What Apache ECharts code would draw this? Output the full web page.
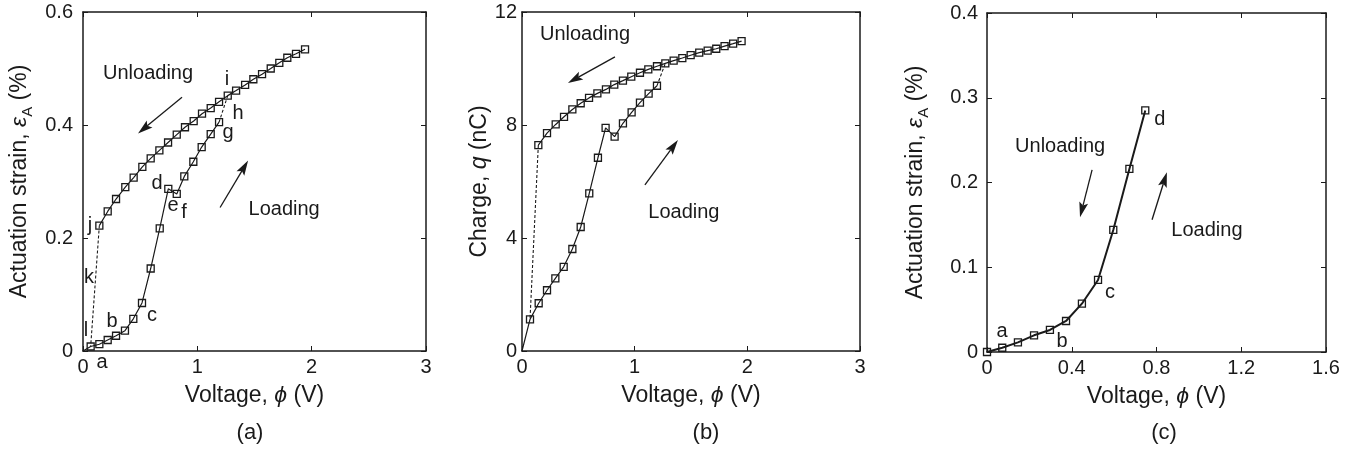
<!DOCTYPE html>
<html><head><meta charset="utf-8">
<script src="https://cdn.jsdelivr.net/npm/echarts@6/dist/echarts.min.js"></script>
<style>html,body{margin:0;padding:0;background:#fff}#c{width:1358px;height:455px}</style>
</head><body><div id="c"></div><script>
// ---------- Panel (a): actuation strain vs voltage ----------
const aLoadV      = [0, 0.067, 0.143, 0.216, 0.289, 0.367, 0.44, 0.516, 0.592, 0.671, 0.746, 0.82, 0.886, 0.965, 1.038, 1.117, 1.19];
const aLoadStrain = [0, 0.008, 0.012, 0.0195, 0.027, 0.036, 0.057, 0.085, 0.146, 0.217, 0.287, 0.278, 0.309, 0.335, 0.361, 0.384, 0.405];
const aJumpUpV      = [1.19, 1.266];
const aJumpUpStrain = [0.405, 0.452];
const aUpperV      = [0.143, 0.216, 0.289, 0.37, 0.443, 0.519, 0.592, 0.668, 0.744, 0.82, 0.892, 0.968, 1.041, 1.117, 1.19, 1.266, 1.339, 1.418, 1.49, 1.566, 1.642, 1.717, 1.787, 1.863, 1.942];
const aUpperStrain = [0.222, 0.247, 0.269, 0.290, 0.307, 0.326, 0.341, 0.355, 0.369, 0.383, 0.396, 0.407, 0.420, 0.430, 0.441, 0.452, 0.461, 0.471, 0.481, 0.490, 0.500, 0.510, 0.519, 0.526, 0.534];
const aDropV      = [0.143, 0.067];
const aDropStrain = [0.222, 0.008];

// ---------- Panel (b): charge vs voltage ----------
const bLoadV = [0, 0.071, 0.148, 0.222, 0.296, 0.37, 0.447, 0.521, 0.597, 0.674, 0.742, 0.822, 0.896, 0.973, 1.047, 1.124, 1.198];
const bLoadQ = [0, 1.12, 1.69, 2.15, 2.57, 2.98, 3.61, 4.39, 5.58, 6.84, 7.90, 7.59, 8.06, 8.45, 8.79, 9.11, 9.39];
const bJumpUpV = [1.198, 1.272];
const bJumpUpQ = [9.39, 10.18];
const bUpperV = [0.145, 0.222, 0.299, 0.373, 0.447, 0.521, 0.595, 0.669, 0.745, 0.819, 0.896, 0.97, 1.047, 1.121, 1.198, 1.272, 1.346, 1.423, 1.497, 1.573, 1.648, 1.724, 1.798, 1.874, 1.949];
const bUpperQ = [7.29, 7.71, 8.02, 8.29, 8.55, 8.77, 8.96, 9.12, 9.26, 9.43, 9.57, 9.71, 9.85, 9.97, 10.08, 10.18, 10.28, 10.37, 10.47, 10.56, 10.63, 10.70, 10.79, 10.88, 10.97];
const bDropV = [0.145, 0.071];
const bDropQ = [7.29, 1.12];

// ---------- Panel (c): actuation strain vs voltage (low range) ----------
const cV      = [0, 0.072, 0.146, 0.222, 0.297, 0.373, 0.448, 0.524, 0.596, 0.672, 0.747];
const cStrain = [0, 0.005, 0.0114, 0.0197, 0.026, 0.0366, 0.057, 0.085, 0.144, 0.216, 0.285];

// ---------- Tick labels ----------
const aXTicks = [0, 1, 2, 3];        const aYTicks = [0, 0.2, 0.4, 0.6];
const bXTicks = [0, 1, 2, 3];        const bYTicks = [0, 4, 8, 12];
const cXTicks = [0, 0.4, 0.8, 1.2, 1.6]; const cYTicks = [0, 0.1, 0.2, 0.3, 0.4];

const FONT = '"Liberation Sans", Arial, sans-serif';
const INK = '#1a1a1a';
const zip = (xs, ys) => xs.map((x, i) => [x, ys[i]]);

const nameRich = {
  n: {fontSize: 23, fontFamily: FONT, color: INK, lineHeight: 30, verticalAlign: 'middle'},
  i: {fontSize: 23, fontFamily: FONT, color: INK, fontStyle: 'italic', lineHeight: 30, verticalAlign: 'middle'},
  s: {fontSize: 15, fontFamily: FONT, color: INK, lineHeight: 30, verticalAlign: 'bottom'}
};

function axesFor(gi, ticks, isX, name, nameGap, labelMargin) {
  const min = ticks[0], max = ticks[ticks.length - 1], interval = ticks[1] - ticks[0];
  const common = {
    type: 'value', gridIndex: gi, min, max, interval,
    axisLine: {show: true, onZero: false, lineStyle: {color: INK, width: 1.5}},
    axisTick: {show: true, inside: true, length: 5, lineStyle: {color: INK, width: 1}},
    splitLine: {show: false}
  };
  const main = Object.assign({}, common, {
    position: isX ? 'bottom' : 'left',
    axisLabel: {show: true, fontSize: 20, color: INK, fontFamily: FONT, margin: labelMargin},
    name, nameLocation: 'middle', nameGap,
    nameRotate: isX ? 0 : 90,
    nameTextStyle: {rich: nameRich, fontSize: 23, fontFamily: FONT, color: INK}
  });
  const twin = Object.assign({}, common, {
    position: isX ? 'top' : 'right',
    axisLabel: {show: false}
  });
  return [main, twin];
}

const volt = '{n|Voltage, }{i|ϕ}{n| (V)}';
const xAxis = [
  ...axesFor(0, aXTicks, true, volt, 30, 6),
  ...axesFor(1, bXTicks, true, volt, 30, 6),
  ...axesFor(2, cXTicks, true, volt, 30, 6)
];
const yAxis = [
  ...axesFor(0, aYTicks, false, '{n|Actuation strain, }{i|ε}{s|A}{n| (%)}', 48, 10),
  ...axesFor(1, bYTicks, false, '{n|Charge, }{i|q}{n| (nC)}', 26, 5),
  ...axesFor(2, cYTicks, false, '{n|Actuation strain, }{i|ε}{s|A}{n| (%)}', 56, 9)
];

const marker = {color: 'rgba(255,255,255,0)', borderColor: INK, borderWidth: 1.3};
function solid(gi, xs, ys, opts) {
  const data = zip(xs, ys).map((p) => (p[0] === 0 && p[1] === 0 && gi !== 2) ? {value: p, symbol: 'none'} : p);
  return Object.assign({
    type: 'line', xAxisIndex: 2 * gi, yAxisIndex: 2 * gi, data,
    symbol: 'rect', symbolSize: 7, showSymbol: true,
    lineStyle: {color: INK, width: 1.2}, itemStyle: marker, z: 3, silent: true, animation: false
  }, opts || {});
}
function dashed(gi, xs, ys) {
  return {
    type: 'line', xAxisIndex: 2 * gi, yAxisIndex: 2 * gi, data: zip(xs, ys),
    symbol: 'none', lineStyle: {color: INK, width: 1.1, type: [3, 2]}, z: 2, silent: true, animation: false
  };
}

const series = [
  solid(0, aLoadV, aLoadStrain),
  dashed(0, aJumpUpV, aJumpUpStrain),
  solid(0, aUpperV, aUpperStrain),
  dashed(0, aDropV, aDropStrain),
  solid(1, bLoadV, bLoadQ),
  dashed(1, bJumpUpV, bJumpUpQ),
  solid(1, bUpperV, bUpperQ),
  dashed(1, bDropV, bDropQ),
  solid(2, cV, cStrain, {lineStyle: {color: INK, width: 2}})
];

const chart = echarts.init(document.getElementById('c'), null, {renderer: 'canvas'});
chart.setOption({
  animation: false,
  backgroundColor: '#fff',
  grid: [
    {left: 83, top: 12, width: 343, height: 339},
    {left: 522, top: 12, width: 338, height: 339},
    {left: 987, top: 13, width: 339, height: 339}
  ],
  xAxis, yAxis, series
});

// ---------- Annotations (placed in data coordinates of each panel) ----------
const notes = [
  // panel, text, x, y, size
  [0, 'Unloading', 0.569, 0.492, 20], [0, 'Loading', 1.759, 0.250, 20],
  [0, 'i', 1.26, 0.48, 20], [0, 'h', 1.356, 0.421, 20], [0, 'g', 1.269, 0.387, 20],
  [0, 'd', 0.647, 0.297, 20], [0, 'e', 0.787, 0.258, 20], [0, 'f', 0.884, 0.245, 20],
  [0, 'j', 0.061, 0.222, 20], [0, 'k', 0.052, 0.130, 20], [0, 'l', 0.026, 0.036, 20],
  [0, 'b', 0.254, 0.053, 20], [0, 'c', 0.604, 0.062, 20], [0, 'a', 0.166, -0.021, 20],
  [1, 'Unloading', 0.559, 11.19, 20], [1, 'Loading', 1.437, 4.92, 20],
  [2, 'Unloading', 0.345, 0.242, 20], [2, 'Loading', 1.038, 0.143, 20],
  [2, 'd', 0.816, 0.274, 20], [2, 'c', 0.58, 0.07, 20], [2, 'b', 0.354, 0.012, 20], [2, 'a', 0.071, 0.024, 20]
];
const arrows = [
  [0, 0.866, 0.449, 0.481, 0.385], [0, 1.199, 0.254, 1.444, 0.337],
  [1, 0.825, 10.41, 0.408, 9.49], [1, 1.091, 5.88, 1.384, 7.47],
  [2, 0.496, 0.215, 0.439, 0.159], [2, 0.779, 0.156, 0.849, 0.212]
];
const panelTags = [['(a)', 250, 433], ['(b)', 706, 433], ['(c)', 1164, 433]];

const graphic = [];
notes.forEach(([g, t, x, y, s]) => {
  const p = chart.convertToPixel({gridIndex: g}, [x, y]);
  graphic.push({type: 'text', silent: true, z: 10, style: {
    text: t, x: p[0], y: p[1], fill: INK, font: s + 'px ' + FONT,
    align: 'center', verticalAlign: 'middle', textAlign: 'center', textVerticalAlign: 'middle'}});
});
arrows.forEach(([g, x0, y0, x1, y1]) => {
  const a = chart.convertToPixel({gridIndex: g}, [x0, y0]);
  const b = chart.convertToPixel({gridIndex: g}, [x1, y1]);
  const dx = b[0] - a[0], dy = b[1] - a[1], len = Math.hypot(dx, dy);
  const ux = dx / len, uy = dy / len, nx = -uy, ny = ux;
  const L = 15, W = 4.5;
  const bx = b[0] - L * ux, by = b[1] - L * uy;
  graphic.push({type: 'line', silent: true, z: 10, shape: {x1: a[0], y1: a[1], x2: bx + 3 * ux, y2: by + 3 * uy},
    style: {stroke: INK, lineWidth: 1.3}});
  graphic.push({type: 'polygon', silent: true, z: 10, shape: {points: [
    [b[0], b[1]], [bx + W * nx, by + W * ny], [bx + 3 * ux, by + 3 * uy], [bx - W * nx, by - W * ny]]},
    style: {fill: INK}});
});
panelTags.forEach(([t, x, y]) => {
  graphic.push({type: 'text', silent: true, style: {text: t, x, y, fill: INK, font: '22px ' + FONT,
    align: 'center', verticalAlign: 'middle', textAlign: 'center', textVerticalAlign: 'middle'}});
});
chart.setOption({graphic});
</script></body></html>
